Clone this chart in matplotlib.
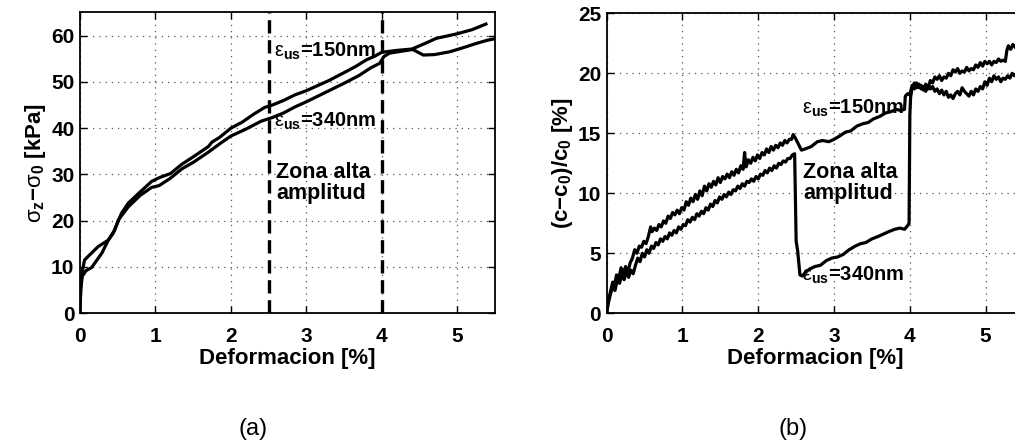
import matplotlib
matplotlib.use("Agg")
import matplotlib.pyplot as plt

plt.rcParams["font.family"] = ["Liberation Sans", "DejaVu Sans"]
plt.rcParams["mathtext.fontset"] = "custom"
plt.rcParams["mathtext.rm"] = "Liberation Sans"
plt.rcParams["mathtext.bf"] = "Liberation Sans:bold"
plt.rcParams["mathtext.it"] = "Liberation Sans:italic"

# ---- (a) stress vs. strain ----
stress_x_150 = [0.00, 0.01, 0.03, 0.08, 0.155, 0.29, 0.375, 0.44, 0.55, 0.64, 0.75, 0.85,
                0.95, 1.05, 1.20, 1.35, 1.50, 1.70, 1.75, 1.85, 2.00, 2.15, 2.30, 2.45,
                2.55, 2.70, 2.85, 3.00, 3.15, 3.30, 3.50, 3.65, 3.80, 3.90, 4.00, 4.20,
                4.40, 4.60, 4.72, 5.00, 5.20, 5.38]
stress_y_150 = [0.0, 5.0, 8.0, 9.2, 9.9, 13.0, 15.8, 17.3, 21.6, 23.8, 25.5, 27.0,
                28.5, 29.3, 30.2, 32.2, 33.8, 36.0, 37.0, 38.0, 40.0, 41.3, 43.0, 44.5,
                45.0, 46.0, 47.2, 48.1, 49.2, 50.3, 52.0, 53.3, 54.8, 55.5, 56.4, 56.8,
                57.1, 58.5, 59.4, 60.4, 61.3, 62.5]

stress_x_340 = [0.00, 0.01, 0.03, 0.06, 0.09, 0.24, 0.375, 0.46, 0.51, 0.64, 0.80, 0.95,
                1.05, 1.20, 1.35, 1.50, 1.70, 1.85, 2.00, 2.20, 2.40, 2.55, 2.70, 2.85,
                3.00, 3.20, 3.50, 3.70, 3.85, 3.97, 4.03, 4.10, 4.25, 4.41, 4.55, 4.70,
                4.90, 5.10, 5.25, 5.40, 5.52]
stress_y_340 = [0.0, 6.0, 9.0, 11.5, 12.0, 14.4, 15.8, 18.0, 20.2, 23.0, 25.5, 27.2,
                27.6, 29.2, 31.2, 32.6, 34.8, 36.6, 38.3, 39.8, 41.5, 42.3, 43.3, 44.6,
                45.7, 47.3, 49.7, 51.4, 53.0, 54.0, 55.5, 56.2, 56.6, 57.0, 55.8, 55.9,
                56.5, 57.5, 58.3, 59.0, 59.4]

zone_bounds = [2.5, 4.0]

# ---- (b) relative velocity change vs. strain ----
vel_150 = [
    (0.00, 0.0), (0.02, 1.0), (0.05, 1.8), (0.08, 2.6), (0.10, 2.2), (0.13, 3.2),
    (0.16, 2.9), (0.19, 3.8), (0.22, 3.3), (0.25, 3.9), (0.28, 3.4), (0.31, 4.2),
    (0.34, 4.6), (0.37, 5.3), (0.40, 5.0), (0.43, 5.6), (0.46, 5.5), (0.49, 6.0),
    (0.52, 5.8), (0.55, 6.4), (0.58, 7.2), (0.60, 6.8), (0.63, 7.1), (0.66, 6.9),
    (0.69, 7.4), (0.72, 7.2), (0.75, 7.7), (0.78, 7.5), (0.81, 8.1), (0.84, 7.9),
    (0.87, 8.4), (0.90, 8.2), (0.93, 8.6), (0.96, 8.3), (0.99, 8.8), (1.02, 8.6),
    (1.05, 9.3), (1.08, 9.0), (1.11, 9.6), (1.14, 9.3), (1.17, 9.9), (1.20, 9.5),
    (1.23, 10.2), (1.26, 9.8), (1.29, 10.6), (1.32, 10.2), (1.35, 10.8), (1.38, 10.5),
    (1.41, 11.0), (1.44, 10.7), (1.47, 11.3), (1.50, 10.9), (1.53, 11.4), (1.56, 11.2),
    (1.59, 11.6), (1.62, 11.3), (1.65, 11.8), (1.68, 11.5), (1.71, 12.0), (1.74, 11.7),
    (1.77, 12.3), (1.80, 12.0), (1.82, 13.4), (1.84, 12.2), (1.87, 12.8), (1.90, 12.5),
    (1.93, 13.0), (1.96, 12.7), (1.99, 13.2), (2.02, 12.9), (2.05, 13.4), (2.08, 13.2),
    (2.11, 13.7), (2.14, 13.4), (2.17, 13.9), (2.20, 13.6), (2.23, 14.0), (2.26, 13.8),
    (2.29, 14.2), (2.32, 14.0), (2.35, 14.4), (2.38, 14.2), (2.41, 14.5), (2.44, 14.5),
    (2.46, 14.9), (2.49, 14.6), (2.53, 14.1), (2.57, 13.6), (2.62, 13.7), (2.70, 13.9),
    (2.78, 14.3), (2.85, 14.4), (2.93, 14.3), (3.00, 14.5), (3.08, 14.8), (3.15, 15.1),
    (3.22, 15.2), (3.30, 15.6), (3.38, 15.8), (3.45, 15.9), (3.52, 16.2), (3.60, 16.4),
    (3.68, 16.7), (3.75, 16.8), (3.82, 17.0), (3.88, 16.9), (3.93, 17.0), (3.94, 18.1),
    (3.97, 18.3), (4.00, 18.2), (4.03, 19.0), (4.06, 18.7), (4.09, 19.2), (4.12, 18.8),
    (4.15, 19.0), (4.18, 18.6), (4.21, 19.1), (4.24, 18.7), (4.27, 19.4), (4.30, 19.2),
    (4.33, 19.7), (4.36, 19.5), (4.39, 19.8), (4.42, 19.4), (4.45, 19.7), (4.48, 19.6),
    (4.51, 20.0), (4.54, 19.8), (4.57, 20.3), (4.60, 20.1), (4.63, 20.4), (4.66, 20.0),
    (4.69, 20.2), (4.72, 20.1), (4.75, 20.5), (4.78, 20.2), (4.81, 20.4), (4.84, 20.3),
    (4.87, 20.7), (4.90, 20.5), (4.93, 20.9), (4.96, 20.6), (4.99, 21.0), (5.02, 20.8),
    (5.05, 21.0), (5.08, 20.7), (5.11, 21.0), (5.14, 20.9), (5.17, 21.2), (5.20, 21.0),
    (5.23, 21.1), (5.26, 21.0), (5.28, 21.9), (5.30, 22.3), (5.33, 22.0), (5.36, 22.4),
    (5.40, 22.1), (5.50, 22.0),
]
vel_340 = [
    (0.00, 0.0), (0.02, 0.8), (0.05, 1.6), (0.08, 2.2), (0.11, 1.9), (0.14, 2.8),
    (0.17, 2.5), (0.20, 3.2), (0.23, 2.8), (0.26, 3.4), (0.29, 3.0), (0.32, 3.6),
    (0.35, 3.3), (0.38, 4.0), (0.41, 4.6), (0.44, 4.3), (0.47, 5.0), (0.50, 4.7),
    (0.53, 5.3), (0.56, 5.0), (0.59, 5.6), (0.62, 5.4), (0.65, 5.9), (0.68, 5.7),
    (0.71, 6.2), (0.74, 6.0), (0.77, 6.4), (0.80, 6.2), (0.83, 6.7), (0.86, 6.5),
    (0.89, 6.9), (0.92, 6.7), (0.95, 7.2), (0.98, 7.0), (1.01, 7.4), (1.04, 7.3),
    (1.07, 7.8), (1.10, 7.6), (1.13, 8.0), (1.16, 7.8), (1.19, 8.3), (1.22, 8.1),
    (1.25, 8.5), (1.28, 8.3), (1.31, 8.8), (1.34, 8.6), (1.37, 9.1), (1.40, 8.9),
    (1.43, 9.4), (1.46, 9.2), (1.49, 9.7), (1.52, 9.5), (1.55, 9.9), (1.58, 9.7),
    (1.61, 10.1), (1.64, 9.9), (1.67, 10.3), (1.70, 10.2), (1.73, 10.6), (1.76, 10.4),
    (1.79, 10.8), (1.82, 10.6), (1.85, 11.0), (1.88, 10.9), (1.91, 11.2), (1.94, 11.0),
    (1.97, 11.4), (2.00, 11.2), (2.03, 11.6), (2.06, 11.5), (2.09, 11.9), (2.12, 11.7),
    (2.15, 12.1), (2.18, 11.9), (2.21, 12.3), (2.24, 12.1), (2.27, 12.5), (2.30, 12.4),
    (2.33, 12.7), (2.36, 12.6), (2.39, 12.9), (2.42, 12.9), (2.45, 13.2), (2.48, 13.3),
    (2.50, 6.0), (2.52, 5.2), (2.55, 3.2), (2.58, 3.1), (2.62, 3.4), (2.68, 3.7),
    (2.75, 3.9), (2.82, 4.0), (2.90, 4.4), (2.97, 4.6), (3.05, 4.7), (3.12, 4.9),
    (3.20, 5.3), (3.28, 5.6), (3.35, 5.8), (3.42, 5.9), (3.50, 6.2), (3.58, 6.4),
    (3.65, 6.6), (3.72, 6.8), (3.80, 7.0), (3.87, 7.1), (3.93, 7.0), (3.97, 7.3),
    (3.99, 7.5), (4.00, 16.5), (4.01, 18.0), (4.03, 18.8), (4.06, 19.2), (4.09, 18.8),
    (4.12, 19.1), (4.15, 18.7), (4.18, 18.9), (4.21, 18.5), (4.24, 19.0), (4.27, 18.7),
    (4.30, 18.9), (4.33, 18.5), (4.36, 18.7), (4.39, 18.3), (4.42, 18.6), (4.45, 18.2),
    (4.48, 18.5), (4.51, 18.0), (4.54, 18.2), (4.57, 17.9), (4.60, 18.3), (4.63, 18.5),
    (4.66, 18.2), (4.69, 18.8), (4.72, 18.5), (4.75, 18.3), (4.78, 18.1), (4.81, 18.5),
    (4.84, 18.2), (4.87, 18.7), (4.90, 18.5), (4.93, 18.9), (4.96, 18.7), (4.99, 19.3),
    (5.02, 19.0), (5.05, 19.6), (5.08, 19.3), (5.11, 19.8), (5.14, 19.5), (5.17, 19.7),
    (5.20, 19.3), (5.23, 19.6), (5.26, 19.5), (5.29, 19.8), (5.32, 19.6), (5.35, 20.0),
    (5.38, 19.8), (5.41, 20.0), (5.50, 19.9),
]

x_ticks = [0, 1, 2, 3, 4, 5]
a_yticks = [0, 10, 20, 30, 40, 50, 60]
b_yticks = [0, 5, 10, 15, 20, 25]

LW = 2.3
TICK_FS = 15
LABEL_FS = 16
TEXT_FS = 15.5
EPS_FS = 14.5

fig = plt.figure(figsize=(10.15, 4.45), dpi=100)
ax1 = fig.add_axes([0.0788, 0.296, 0.4089, 0.676])
ax2 = fig.add_axes([0.5977, 0.296, 0.4107, 0.674])


def style_axes(ax, yticks, ylim):
    ax.set_xlim(0, 5.5)
    ax.set_ylim(*ylim)
    ax.set_xticks(x_ticks)
    ax.set_yticks(yticks)
    ax.grid(True, linestyle=(0, (1, 4)), color="#555555", linewidth=0.9)
    ax.set_axisbelow(True)
    ax.tick_params(direction="in", length=5, width=1.0, labelsize=TICK_FS,
                   top=True, right=True)
    ax.tick_params(axis="x", pad=10)
    ax.tick_params(axis="y", pad=4)
    for lab in ax.get_xticklabels() + ax.get_yticklabels():
        lab.set_fontweight("bold")
    for sp in ax.spines.values():
        sp.set_linewidth(1.3)
    ax.set_xlabel("Deformacion [%]", fontsize=LABEL_FS, fontweight="bold", labelpad=1)


# (a)
style_axes(ax1, a_yticks, (0, 65))
ax1.plot(stress_x_150, stress_y_150, color="black", lw=LW, solid_joinstyle="round")
ax1.plot(stress_x_340, stress_y_340, color="black", lw=LW, solid_joinstyle="round")
for xb in zone_bounds:
    ax1.axvline(xb, color="black", lw=2.4, linestyle=(0, (4, 2)))
ax1.set_ylabel(r"$\mathrm{σ}_{\mathbf{z}}$−$\mathrm{σ}_{\mathbf{0}}$ [kPa]",
               fontsize=LABEL_FS, fontweight="bold", labelpad=2)
ax1.text(2.57, 56.5, r"$\mathrm{ε}_{\mathbf{us}}$=150nm", fontsize=EPS_FS,
         fontweight="bold", va="center", ha="left")
ax1.text(2.57, 41.5, r"$\mathrm{ε}_{\mathbf{us}}$=340nm", fontsize=EPS_FS,
         fontweight="bold", va="center", ha="left")
ax1.text(2.6, 28.2, "Zona alta\namplitud", fontsize=TEXT_FS, fontweight="bold",
         va="center", ha="left", linespacing=1.0)

# (b)
style_axes(ax2, b_yticks, (0, 25))
ax2.plot([p[0] for p in vel_150], [p[1] for p in vel_150], color="black", lw=LW,
         solid_joinstyle="round")
ax2.plot([p[0] for p in vel_340], [p[1] for p in vel_340], color="black", lw=LW,
         solid_joinstyle="round")
ax2.set_ylabel(r"(c−c$_{\mathbf{0}}$)/c$_{\mathbf{0}}$ [%]",
               fontsize=LABEL_FS, fontweight="bold", labelpad=2)
ax2.text(2.58, 17.1, r"$\mathrm{ε}_{\mathbf{us}}$=150nm", fontsize=EPS_FS,
         fontweight="bold", va="center", ha="left")
ax2.text(2.58, 3.2, r"$\mathrm{ε}_{\mathbf{us}}$=340nm", fontsize=EPS_FS,
         fontweight="bold", va="center", ha="left")
ax2.text(2.59, 10.9, "Zona alta\namplitud", fontsize=TEXT_FS, fontweight="bold",
         va="center", ha="left", linespacing=1.0)

fig.text(253 / 1015, 1 - 429 / 445, "(a)", fontsize=17, ha="center", va="center")
fig.text(793 / 1015, 1 - 429 / 445, "(b)", fontsize=17, ha="center", va="center")

fig.savefig("out.png", dpi=100)
